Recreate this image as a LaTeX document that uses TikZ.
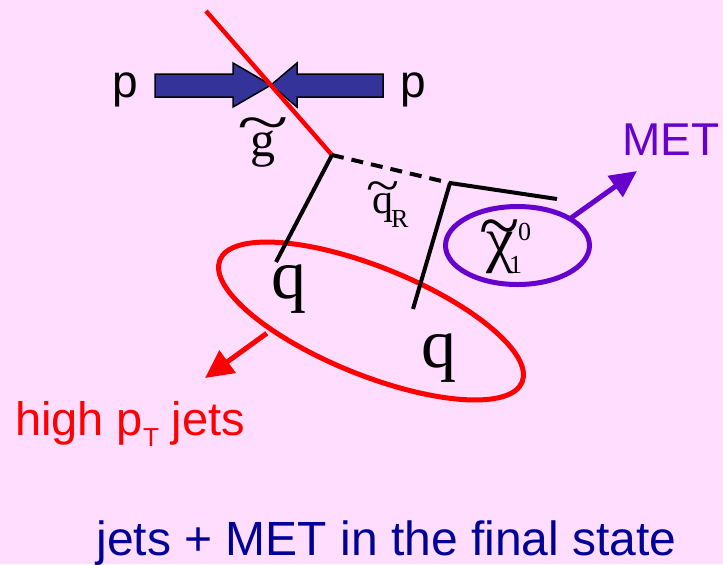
\documentclass[tikz,border=0pt]{standalone}
\usepackage{fontspec}
\setmainfont{Liberation Serif}
\setsansfont{Liberation Sans}
\usetikzlibrary{arrows.meta,shapes.geometric}
\definecolor{bgpink}{HTML}{FFDDFF}
\definecolor{beamblue}{HTML}{333399}
\definecolor{navytext}{HTML}{000099}
\definecolor{metpurple}{HTML}{6600CC}
\newcommand\mytilde[3]{\ooalign{#1\cr\hidewidth\raisebox{#2}{\scalebox{#3}[1.2]{\textasciitilde}}\hidewidth\cr}}
\begin{document}
\begin{tikzpicture}[x=0.5pt,y=-0.5pt,
  lbl/.style={inner sep=0pt,outer sep=0pt},
  sanslbl/.style={lbl,font=\sffamily\fontsize{23}{28}\selectfont},
  seriflbl/.style={lbl,font=\rmfamily\fontsize{25}{30}\selectfont},
  qlbl/.style={lbl,font=\rmfamily\fontsize{35}{40}\selectfont},
  beam/.style={fill=beamblue,draw=black,line width=0.75pt,line join=miter},
  feyn/.style={black,line width=2pt},
  ring/.style={ellipse,draw,line width=2.5pt,inner sep=0pt,outer sep=0pt},
]
\fill[bgpink] (0,0) rectangle (723,564);
% proton beams
\draw[beam] (155,74) -- (233,74) -- (233,63) -- (271,85) -- (233,107) -- (233,97) -- (155,97) -- cycle;
\draw[beam] (383,74) -- (297,74) -- (297,63) -- (271,85) -- (297,107) -- (297,97) -- (383,97) -- cycle;
\node[sanslbl,anchor=base] (pl) at (125,97) {p};
\node[sanslbl,anchor=base] (pr) at (413,97) {p};

% rings
\node[ring,draw=metpurple,minimum width=72pt,minimum height=39pt] (chiring) at (517.5,245.5) {};
\node[ring,draw=red,rotate=-22,minimum width=163pt,minimum height=54pt] (jetring) at (371,321) {};

% lines
\coordinate (gstart) at (206,11);
\coordinate (v1) at (332,155);
\coordinate (v2) at (450,183);
\coordinate (q1end) at (276,262);
\coordinate (q2end) at (413,309);
\coordinate (chiend) at (557,199);
\draw[red,line width=2.2pt] (gstart) -- (v1);
\draw[feyn,dash pattern=on 6pt off 4pt] (v1) -- (v2);
\draw[feyn] (v1) -- (q1end);
\draw[feyn] (v2) -- (q2end);
\draw[feyn] (v2) -- (chiend);

% arrows
\coordinate (mettip) at (637,171);
\draw[metpurple,line width=2.5pt,-{Triangle[length=13.4pt,width=12.5pt]}] (chiring.27) -- (mettip);
\coordinate (jettip) at (205,378);
\draw[red,line width=2.5pt,shorten <=3pt,-{Triangle[length=14pt,width=13.5pt]}] (jetring.207) -- (jettip);

% labels
\node[seriflbl,anchor=base] (glabel) at (263,156) {\mytilde{g}{6.8pt}{1.9}};
\node[lbl,font=\rmfamily\fontsize{21}{25}\selectfont,anchor=base west] (sqlabel) at (372,213) {\rlap{\mytilde{q}{5.5pt}{1.45}}\hspace{9.5pt}\raisebox{-7pt}{\fontsize{13}{15}\selectfont R}};
\node[lbl,font=\rmfamily\fontsize{31}{36}\selectfont,anchor=base west] (chilabel) at (486,260) {\rlap{\mytilde{χ}{4.8pt}{1.2}}\hspace{11.5pt}\rlap{\raisebox{-6.5pt}{\fontsize{13}{15}\selectfont 1}}\hspace{4.5pt}\raisebox{10pt}{\fontsize{13}{15}\selectfont 0}};
\node[qlbl,anchor=base] (q1) at (289,298) {q};
\node[qlbl,anchor=base] (q2) at (439,367) {q};
\node[sanslbl,text=metpurple,anchor=base] (met) at (671,155) {MET};
\node[lbl,font=\sffamily\fontsize{23.5}{28}\selectfont,text=red,anchor=base west] (jets) at (15,435) {high p\raisebox{-5.5pt}{\fontsize{13}{15}\selectfont T} jets};
\node[lbl,font=\sffamily\fontsize{24}{29}\selectfont,text=navytext,anchor=base] (final) at (386.5,555) {jets + MET in the final state};
\end{tikzpicture}
\end{document}
